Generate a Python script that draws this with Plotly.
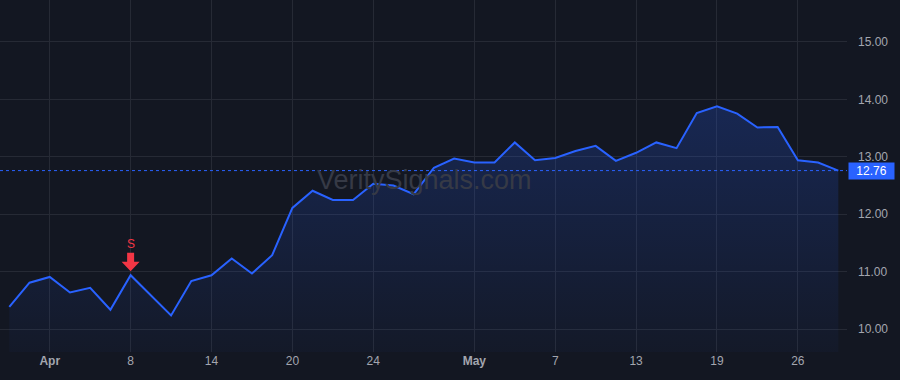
import plotly.graph_objects as go

# ---- data ----
bar_index = list(range(42))
close = [10.39, 10.81, 10.91, 10.64, 10.72, 10.34, 10.94, 10.59, 10.24, 10.84,
         10.94, 11.23, 10.97, 11.29, 12.11, 12.41, 12.25, 12.25, 12.53, 12.50,
         12.35, 12.81, 12.97, 12.90, 12.90, 13.25, 12.94, 12.98, 13.10, 13.19,
         12.93, 13.07, 13.25, 13.15, 13.76, 13.88, 13.75, 13.51, 13.52, 12.94,
         12.90, 12.76]
tick_pos = [2, 6, 10, 14, 18, 23, 27, 31, 35, 39]
tick_text = ["<b>Apr</b>", "8", "14", "20", "24", "<b>May</b>", "7", "13", "19", "26"]
y_ticks = [10, 11, 12, 13, 14, 15]
sell_idx = [6]
sell_label = "S"
last_price = close[-1]
watermark = "VeritySignals.com"

# ---- style ----
BG = "#131722"
GRID = "#262a35"
LINE = "#2962ff"
RED = "#f23645"
TXT = "#a3a6af"
FONT = "Liberation Sans, Arial, sans-serif"
Y_RANGE = [9.605, 15.727]

fig = go.Figure()
fig.add_trace(go.Scatter(
    x=bar_index, y=close, mode="lines",
    line=dict(color=LINE, width=2),
    fill="tozeroy",
    fillgradient=dict(type="vertical", start=Y_RANGE[0], stop=max(close),
                      colorscale=[[0, "rgba(41,98,255,0.03)"], [1, "rgba(41,98,255,0.22)"]]),
    hoverinfo="skip", showlegend=False,
))

shapes = [dict(type="line", xref="paper", x0=0, x1=1, yref="y", y0=last_price, y1=last_price,
               line=dict(color=LINE, width=1, dash="dot"), layer="above")]
annotations = []
for i in sell_idx:
    shapes.append(dict(type="path", xref="x", yref="y", xsizemode="pixel", ysizemode="pixel",
                       xanchor=bar_index[i], yanchor=close[i],
                       path="M0,4 L-9,13.5 L-3.5,13.5 L-3.5,22.5 L3.5,22.5 L3.5,13.5 L9,13.5 Z",
                       fillcolor=RED, line=dict(width=0), layer="above"))
    annotations.append(dict(x=bar_index[i], y=close[i], xref="x", yref="y", text=sell_label,
                            showarrow=False, yshift=31, font=dict(color=RED, size=12, family=FONT)))

annotations.append(dict(x=1, xref="paper", y=last_price, yref="y", text=f"{last_price:.2f}",
                        showarrow=False, xanchor="left", xshift=1, bgcolor=LINE, borderpad=2,
                        width=41, height=12, align="center",
                        font=dict(color="#ffffff", size=12, family=FONT)))
annotations.append(dict(x=0.5, y=0.5, xref="paper", yref="paper", text=watermark, showarrow=False,
                        font=dict(color="#363a46", size=27, family=FONT), yshift=-4, xshift=1))

fig.update_layout(
    width=900, height=380,
    margin=dict(l=0, r=53, t=0, b=28),
    paper_bgcolor=BG, plot_bgcolor=BG,
    font=dict(family=FONT, color=TXT, size=12),
    shapes=shapes, annotations=annotations,
    xaxis=dict(range=[-0.46, 41.43], tickvals=tick_pos, ticktext=tick_text,
               showgrid=True, gridcolor=GRID, gridwidth=1, zeroline=False,
               showline=False, ticks="", tickfont=dict(color=TXT, size=12)),
    yaxis=dict(range=Y_RANGE, side="right", tickvals=y_ticks, tickformat=".2f",
               showgrid=True, gridcolor=GRID, gridwidth=1, zeroline=False,
               showline=False, ticks="", ticklabelstandoff=10,
               tickfont=dict(color=TXT, size=12)),
)

fig.write_html("out.html")
